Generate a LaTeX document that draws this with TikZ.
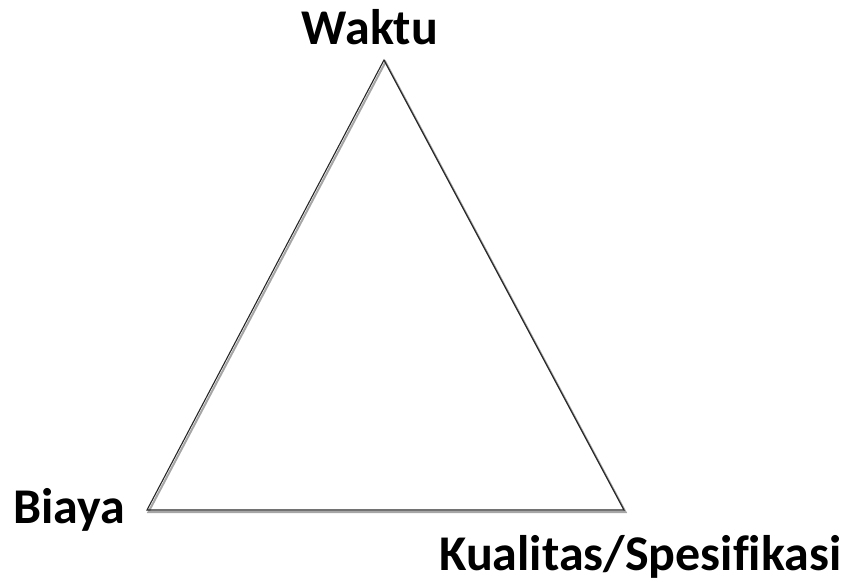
\documentclass[tikz,border=0pt]{standalone}
\usepackage{fontspec}
\setmainfont[Ligatures=NoCommon]{Carlito}
\begin{document}
\begin{tikzpicture}[x=1pt,y=-1pt,
  lbl/.style={font=\bfseries\fontsize{50}{60}\selectfont, inner sep=0pt},
  edge/.style={draw=black!85, line width=1.1pt, line join=miter},
  shadow/.style={draw=black!35, line width=2pt}]
\useasboundingbox (0,0) rectangle (850,581);
\coordinate (T) at (384,60);
\coordinate (L) at (147,510);
\coordinate (R) at (624,510);
\draw[shadow] ([shift={(1.5,2)}]T) -- ([shift={(1.5,2)}]L) -- ([shift={(1.5,2)}]R) -- cycle;
\draw[edge] (T) -- (L) -- (R) -- cycle;
\node[lbl, anchor=base] (w) at (370,44) {Waktu};
\node[lbl, anchor=base west] (b) at (13,523) {Biaya};
\node[lbl, anchor=base west] (k) at (439,570) {Kualitas/Spesifikasi};
\end{tikzpicture}
\end{document}
